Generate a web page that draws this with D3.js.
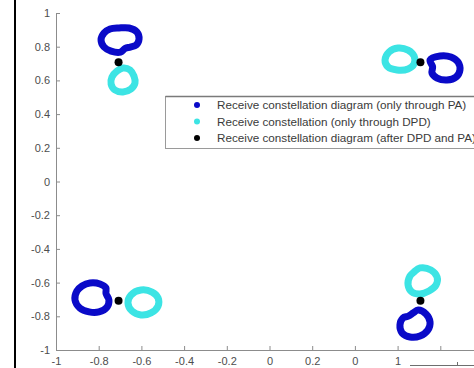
<!DOCTYPE html>
<html>
<head>
<meta charset="utf-8">
<script src="https://cdn.jsdelivr.net/npm/d3@7"></script>
<style>
  html, body { margin: 0; padding: 0; background: #fff; }
  svg { display: block; }
  text { font-family: "Liberation Sans", Arial, sans-serif; }
</style>
</head>
<body>
<svg id="chart" width="474" height="368"></svg>
<script>
// Axis ticks and their labels
const xTicks = [-1, -0.8, -0.6, -0.4, -0.2, 0, 0.2, 0.4, 0.6, 0.8];
const xTickLabels = ["-1", "-0.8", "-0.6", "-0.4", "-0.2", "0", "0.2", "0", "1", ""];
const yTicks = [-1, -0.8, -0.6, -0.4, -0.2, 0, 0.2, 0.4, 0.6, 0.8, 1];
const yTickLabels = ["-1", "-0.8", "-0.6", "-0.4", "-0.2", "0", "0.2", "0.4", "0.6", "0.8", "1"];

// Legend entries
const legendLabels = [
  "Receive constellation diagram (only through PA)",
  "Receive constellation (only through DPD)",
  "Receive constellation diagram (after DPD and PA)"
];
const seriesColors = ["#0a0ac8", "#3ce4e4", "#000000"];

// QPSK symbols after DPD and PA
const idealPoints = [[-0.707, 0.707], [0.707, 0.707], [-0.707, -0.707], [0.707, -0.707]];

// Received symbol loci, PA only (one loop per symbol)
const paLoops = [
  [[-0.705, 0.911], [-0.658, 0.911], [-0.621, 0.887], [-0.611, 0.846], [-0.625, 0.810],
   [-0.652, 0.798], [-0.676, 0.790], [-0.698, 0.768], [-0.742, 0.774], [-0.775, 0.798],
   [-0.789, 0.840], [-0.775, 0.881], [-0.747, 0.905]],
  [[0.752, 0.721], [0.799, 0.745], [0.850, 0.739], [0.883, 0.709], [0.892, 0.662],
   [0.874, 0.620], [0.831, 0.602], [0.785, 0.614], [0.761, 0.644], [0.764, 0.680]],
  [[-0.841, -0.602], [-0.794, -0.608], [-0.766, -0.632], [-0.766, -0.664], [-0.752, -0.703],
   [-0.761, -0.745], [-0.799, -0.774], [-0.845, -0.774], [-0.888, -0.751], [-0.911, -0.703],
   [-0.902, -0.650], [-0.878, -0.620]],
  [[0.696, -0.763], [0.733, -0.786], [0.752, -0.834], [0.742, -0.881], [0.705, -0.917],
   [0.658, -0.923], [0.621, -0.899], [0.611, -0.852], [0.625, -0.810], [0.650, -0.799],
   [0.672, -0.781]]
];

// Received symbol loci, DPD only
const dpdLoops = [
  [[-0.686, 0.674], [-0.653, 0.662], [-0.635, 0.626], [-0.630, 0.585], [-0.649, 0.549],
   [-0.686, 0.531], [-0.724, 0.543], [-0.742, 0.579], [-0.738, 0.620], [-0.714, 0.656]],
  [[0.602, 0.792], [0.649, 0.780], [0.677, 0.745], [0.677, 0.697], [0.649, 0.668],
   [0.597, 0.662], [0.555, 0.680], [0.541, 0.721], [0.560, 0.769]],
  [[-0.602, -0.644], [-0.550, -0.656], [-0.522, -0.691], [-0.522, -0.739], [-0.555, -0.780],
   [-0.602, -0.792], [-0.644, -0.769], [-0.663, -0.721], [-0.649, -0.674]],
  [[0.705, -0.513], [0.756, -0.525], [0.785, -0.567], [0.780, -0.614], [0.747, -0.650],
   [0.705, -0.668], [0.667, -0.656], [0.649, -0.614], [0.658, -0.561], [0.677, -0.537]]
];

const svg = d3.select("#chart");
const axisColor = "#8c8c8c";
const labelColor = "#4d4d4d";

const x = d3.scaleLinear().domain([-1, 1]).range([56, 483]);
const y = d3.scaleLinear().domain([-1, 1]).range([350, 13]);

// figure frame edge on the left
svg.append("line")
  .attr("x1", 15).attr("x2", 15).attr("y1", 0).attr("y2", 368)
  .attr("stroke", "#000").attr("stroke-width", 2);

// axes
const xAxis = svg.append("g")
  .attr("transform", `translate(0,${y(-1)})`)
  .call(d3.axisBottom(x).tickValues(xTicks).tickSize(-4).tickSizeOuter(0).tickPadding(7)
    .tickFormat((d, i) => xTickLabels[i]));
const yAxis = svg.append("g")
  .attr("transform", `translate(${x(-1)},0)`)
  .call(d3.axisLeft(y).tickValues(yTicks).tickSize(-4).tickSizeOuter(0).tickPadding(6)
    .tickFormat((d, i) => yTickLabels[i]));

[xAxis, yAxis].forEach(g => {
  g.select(".domain").attr("stroke", axisColor);
  g.selectAll(".tick line").attr("stroke", axisColor);
  g.selectAll(".tick text").attr("fill", labelColor)
    .style("font-size", "11px").style("font-family", "'Liberation Sans', Arial, sans-serif");
});

// loops
const loopLine = d3.line()
  .x(d => x(d[0])).y(d => y(d[1]))
  .curve(d3.curveCatmullRomClosed.alpha(0.5));

svg.append("g").selectAll("path").data(paLoops).join("path")
  .attr("d", loopLine)
  .attr("fill", "none").attr("stroke", seriesColors[0])
  .attr("stroke-width", 7).attr("stroke-linejoin", "round");

svg.append("g").selectAll("path").data(dpdLoops).join("path")
  .attr("d", loopLine)
  .attr("fill", "none").attr("stroke", seriesColors[1])
  .attr("stroke-width", 7).attr("stroke-linejoin", "round");

svg.append("g").selectAll("circle").data(idealPoints).join("circle")
  .attr("cx", d => x(d[0])).attr("cy", d => y(d[1])).attr("r", 4)
  .attr("fill", seriesColors[2]);

// legend
const legend = svg.append("g").attr("transform", "translate(165.5,96.5)");
legend.append("rect")
  .attr("width", 330).attr("height", 52)
  .attr("fill", "#fff").attr("stroke", "#9a9a9a").attr("stroke-width", 1);
legend.append("line")
  .attr("x1", 0).attr("x2", 330).attr("y1", 0).attr("y2", 0)
  .attr("stroke", "#7a7a7a").attr("stroke-width", 1.5);
const rows = legend.selectAll("g.row").data(legendLabels).join("g")
  .attr("class", "row")
  .attr("transform", (d, i) => `translate(0,${8.5 + i * 16.5})`);
rows.append("circle")
  .attr("cx", 31.5).attr("cy", 0).attr("r", 3)
  .attr("fill", (d, i) => seriesColors[i]);
rows.append("text")
  .attr("x", 51.5).attr("y", 0).attr("dy", "0.35em")
  .attr("fill", "#3a3a3a")
  .style("font-size", "11.7px")
  .text(d => d);

// corner of the neighbouring axes at the bottom right
svg.append("line")
  .attr("x1", 410).attr("x2", 474).attr("y1", 365.5).attr("y2", 365.5)
  .attr("stroke", "#6e6e6e").attr("stroke-width", 1);
svg.append("line")
  .attr("x1", 457.5).attr("x2", 457.5).attr("y1", 362).attr("y2", 365.5)
  .attr("stroke", "#6e6e6e").attr("stroke-width", 1);
</script>
</body>
</html>
